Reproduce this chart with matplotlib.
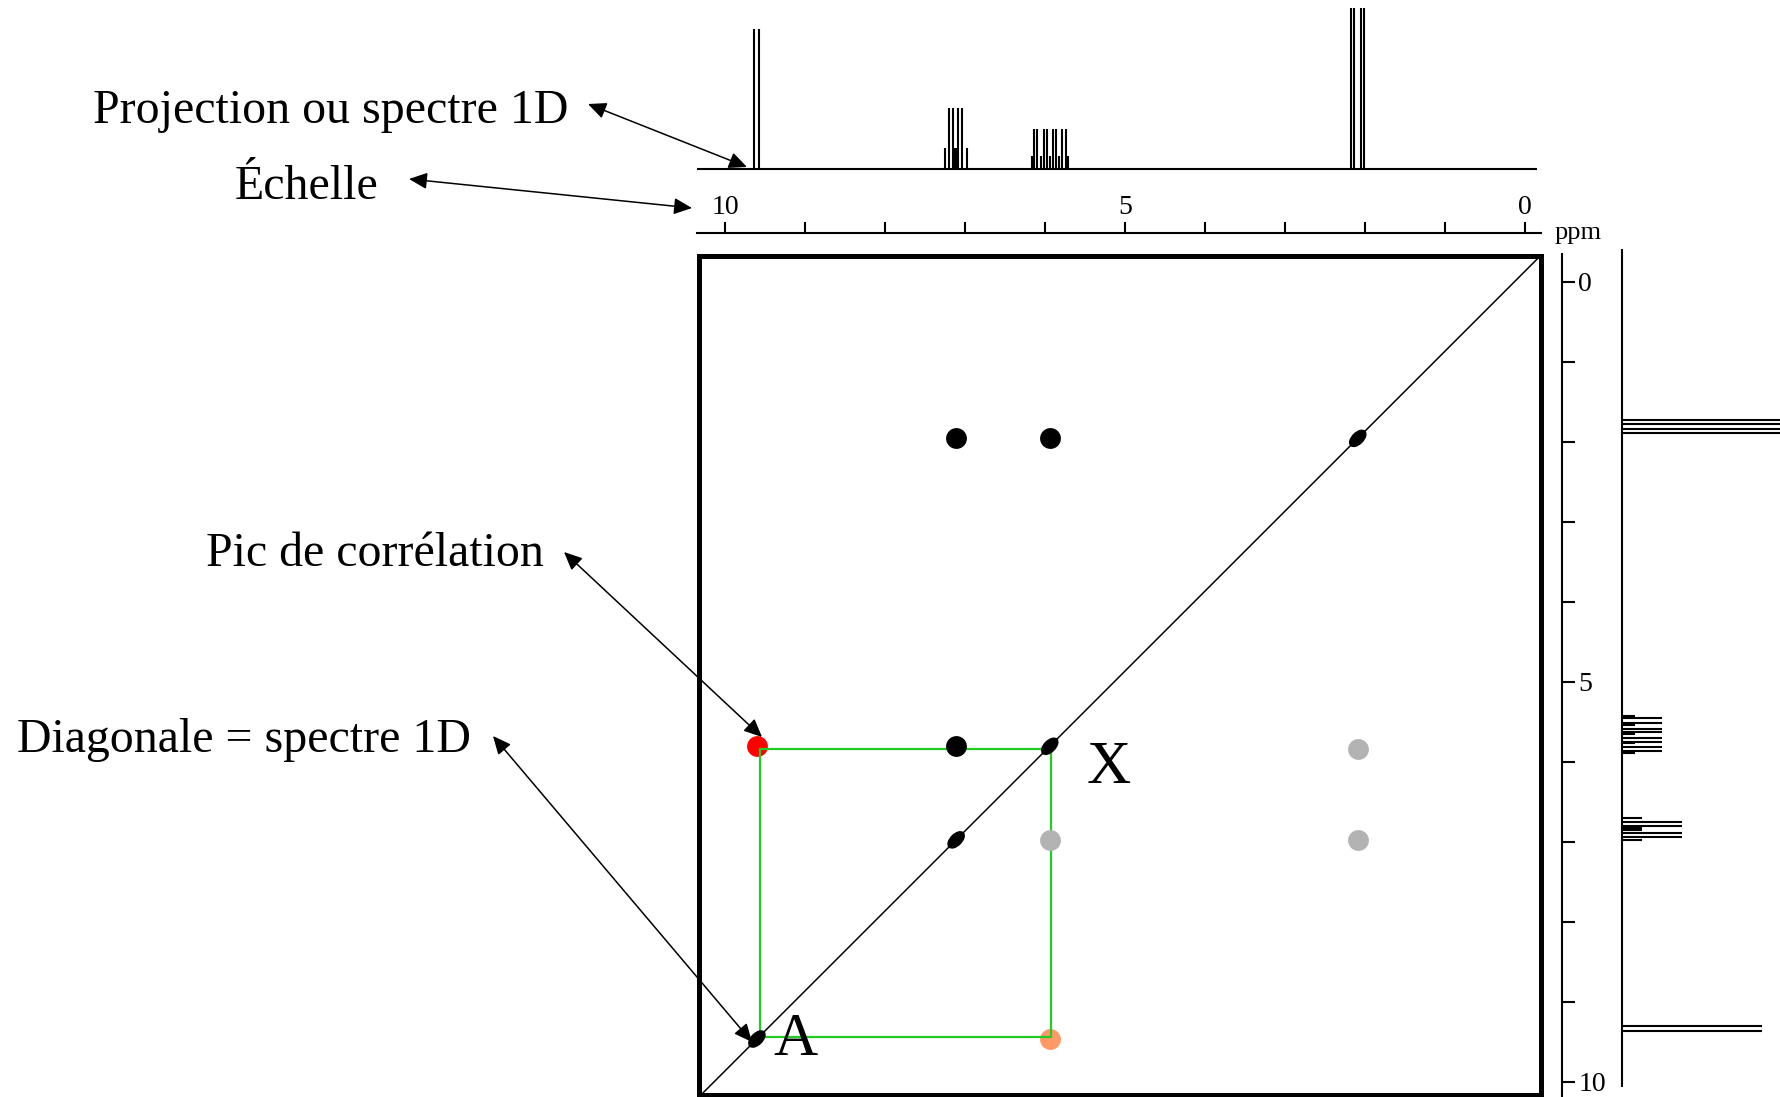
import matplotlib
matplotlib.use("Agg")
import matplotlib.pyplot as plt
from matplotlib.patches import Ellipse, Rectangle, FancyArrowPatch
import numpy as np

plt.rcParams['font.family'] = ['Liberation Serif', 'DejaVu Serif']

W, H = 1780, 1097

# chemical shifts (ppm) of the four spin systems
shift_A = 9.60
shift_B = 7.11
shift_X = 5.94
shift_T = 2.09

# 1D spectrum on top: line positions (ppm) and relative heights
top_doublet = [9.637, 9.571]
top_m_tall = [7.204, 7.154, 7.084, 7.034]
top_m_short = [7.25, 7.135, 7.12, 7.105, 6.979]
top_x_tall = [6.138, 6.096, 6.013, 5.979, 5.896, 5.863, 5.784, 5.741]
top_x_short = [6.166, 6.054, 5.938, 5.821, 5.709]
top_triplet = [2.175, 2.134, 2.054, 2.013]

# 1D spectrum on the right side
side_doublet = [9.30, 9.37]
side_m_tall = [6.75, 6.804, 6.888, 6.938]
side_m_short = [6.70, 6.82, 6.835, 6.85, 6.979]
side_x_tall = [5.458, 5.513, 5.595, 5.633, 5.708, 5.75, 5.82, 5.863]
side_x_short = [5.429, 5.541, 5.654, 5.77, 5.888]
side_triplet = [1.729, 1.779, 1.845, 1.888]

h_triplet, h_doublet = 1.0, 0.87
h_m_tall, h_m_short = 0.378, 0.129
h_x_tall, h_x_short = 0.249, 0.083

# 2D correlation peaks (x = F2, y = F1)
black_x = [shift_B, shift_X, shift_B]
black_y = [shift_T, shift_T, shift_X]
gray_x = [shift_X, shift_T, shift_T]
gray_y = [shift_B, shift_B, shift_X + 0.04]
red_xy = (shift_A, shift_X)
orange_xy = (shift_X, shift_A)
diag_peaks = [shift_A, shift_B, shift_X, shift_T]

# green A/X square
box_x = (9.56, 5.92)
box_y = (5.98, 9.58)

tick_vals = np.arange(0, 11)
tick_labels = [str(t) if t % 5 == 0 else '' for t in tick_vals]


def box(x0, y0, x1, y1):
    # pixel box (top-left origin) -> figure fraction rect
    return [x0 / W, 1 - y1 / H, (x1 - x0) / W, (y1 - y0) / H]


def fpx(x, y):
    return (x / W, 1 - y / H)


fig = plt.figure(figsize=(W / 100, H / 100), dpi=100)

# ---- top 1D spectrum
ax_top = fig.add_axes(box(697, 0, 1537, 169))
ax_top.set_xlim((1525 - 697) / 80, (1525 - 1537) / 80)
ax_top.set_ylim(0, 169 / 160.7)
ax_top.axis('off')
ax_top.plot([ax_top.get_xlim()[0], ax_top.get_xlim()[1]], [0, 0], color='black', lw=1.5,
            clip_on=False, solid_capstyle='butt')
for pos, h in [(top_doublet, h_doublet), (top_m_tall, h_m_tall), (top_m_short, h_m_short),
               (top_x_tall, h_x_tall), (top_x_short, h_x_short), (top_triplet, h_triplet)]:
    ax_top.vlines(pos, 0, h, color='black', lw=1.5)

# ---- top ppm scale
ax_sc = fig.add_axes(box(697, 233, 1540.5, 240))
ax_sc.set_xlim((1525 - 697) / 80, (1525 - 1540.5) / 80)
for s in ['left', 'right', 'bottom']:
    ax_sc.spines[s].set_visible(False)
ax_sc.spines['top'].set_linewidth(1.5)
ax_sc.set_yticks([])
ax_sc.set_xticks(tick_vals)
ax_sc.set_xticklabels(tick_labels)
ax_sc.xaxis.tick_top()
ax_sc.tick_params(axis='x', direction='out', length=8, width=1.5, labelsize=20, pad=1.5)
ax_sc.patch.set_alpha(0)
fig.text(*fpx(1555, 239), 'ppm', fontsize=19, ha='left', va='baseline')

# ---- 2D map
ax2d = fig.add_axes(box(698.5, 256, 1541, 1095))
ax2d.set_xlim(10.33, -0.2)
ax2d.set_ylim(10.3, -0.19)
ax2d.set_xticks([])
ax2d.set_yticks([])
for s in ax2d.spines.values():
    s.set_linewidth(3.6)
ax2d.plot([10.33, -0.2], [10.33, -0.2], color='black', lw=1.1)
ax2d.add_patch(Rectangle((box_x[1], box_y[0]), box_x[0] - box_x[1], box_y[1] - box_y[0],
                         fill=False, edgecolor='#22cc22', lw=1.6, zorder=2))
for d in diag_peaks:
    ax2d.add_patch(Ellipse((d, d), 0.25, 0.14, angle=45, color='black', zorder=3))
ax2d.plot(black_x, black_y, 'o', color='black', ms=15, mec='none', zorder=3)
ax2d.plot(gray_x, gray_y, 'o', color='#b3b3b3', ms=15, mec='none', zorder=3)
ax2d.plot(*red_xy, 'o', color='#ff0000', ms=15, mec='none', zorder=1)
ax2d.plot(*orange_xy, 'o', color='#ff9966', ms=15, mec='none', zorder=1)

# ---- right ppm scale
ax_r = fig.add_axes(box(1555, 254, 1561.7, 1097))
ax_r.set_ylim((1097 - 281.7) / 80, (254 - 281.7) / 80)
for s in ['left', 'top', 'bottom']:
    ax_r.spines[s].set_visible(False)
ax_r.spines['right'].set_linewidth(1.5)
ax_r.set_xticks([])
ax_r.set_yticks(tick_vals)
ax_r.set_yticklabels(tick_labels)
ax_r.yaxis.tick_right()
ax_r.tick_params(axis='y', direction='out', length=9, width=1.5, labelsize=20, pad=3)
ax_r.patch.set_alpha(0)

# ---- side 1D spectrum
ax_side = fig.add_axes(box(1621.7, 249, 1780, 1097))
ax_side.set_ylim((1097 - 281.7) / 80, (249 - 281.7) / 80)
ax_side.set_xlim(0, 158.3 / 160.7)
ax_side.axis('off')
ax_side.plot([0, 0], [(249 - 281.7) / 80, (1086.7 - 281.7) / 80], color='black', lw=1.5,
             clip_on=False, solid_capstyle='butt')
for pos, h in [(side_doublet, h_doublet), (side_m_tall, h_m_tall), (side_m_short, h_m_short),
               (side_x_tall, h_x_tall), (side_x_short, h_x_short), (side_triplet, h_triplet)]:
    ax_side.hlines(pos, 0, h, color='black', lw=1.5)

# ---- labels and arrows
fs = 34.5
fig.text(*fpx(93, 123), 'Projection ou spectre 1D', fontsize=fs, va='baseline')
fig.text(*fpx(235, 199), 'Échelle', fontsize=fs, va='baseline')
fig.text(*fpx(205.5, 566), 'Pic de corrélation', fontsize=fs, va='baseline')
fig.text(*fpx(17, 752), 'Diagonale = spectre 1D', fontsize=fs, va='baseline')
fig.text(*fpx(1087, 783), 'X', fontsize=44, va='baseline')
fig.text(*fpx(773, 1055), 'A', fontsize=44, va='baseline')

arrows = [((588, 104), (747, 167)),
          ((409, 179), (692, 208)),
          ((564, 552), (762, 737)),
          ((493, 736), (752, 1042))]
for p0, p1 in arrows:
    fig.add_artist(FancyArrowPatch(
        fpx(*p0), fpx(*p1), transform=fig.transFigure,
        arrowstyle='<|-|>,head_length=0.55,head_width=0.25', mutation_scale=20,
        color='black', lw=1.1, shrinkA=0, shrinkB=0, zorder=10))

fig.savefig('out.png', dpi=100)
